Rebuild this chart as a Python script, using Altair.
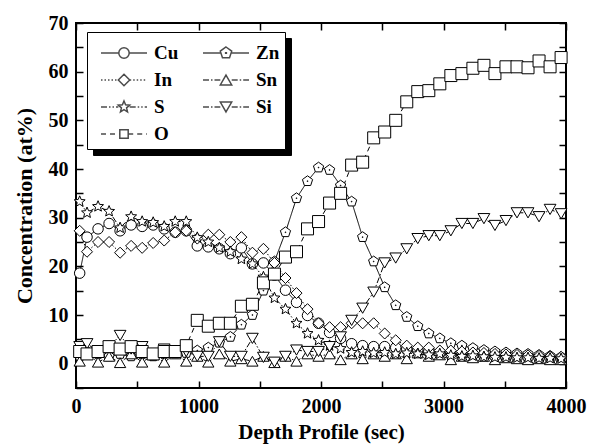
import math
import altair as alt
import pandas as pd

# ---------------- data ----------------
time_sec = [30] + [90 * i for i in range(1, 45)]

cu = [18.6, 26, 27.7, 28.8, 27.3, 28.5, 28.2, 28.5, 27.7, 27,
      27.3, 24.2, 24, 23.6, 22.6, 23.8, 20.5, 20.7, 18.2, 15.1,
      12.6, 9.9, 8.3, 6.4, 5.2, 4.1, 3.7, 3.5, 3.5, 3.3,
      3, 2.8, 2.5, 2.2, 2, 1.8, 1.8, 1.6, 1.5, 1.4,
      1.3, 1.3, 1.2, 1.1, 1.0]
zn = [1.5, 2.5, 2, 1.5, 2, 1.5, 2, 1.5, 2, 2,
      2.2, 2.7, 3.3, 4.3, 5.5, 8, 10, 15, 21, 27,
      34, 37.5, 40.3, 39.8, 36.6, 33.3, 26, 21, 15.7, 12,
      9.6, 7.7, 6.2, 5.2, 4.2, 3.7, 3.2, 2.8, 2.5, 2.3,
      2.1, 2, 1.8, 1.6, 1.4]
in_ = [27.3, 23, 25, 25, 22.8, 24.2, 23.8, 24.8, 25.3, 27,
       27.3, 25.7, 26.5, 26.5, 25, 26, 22.8, 23.6, 20.7, 17.6,
       14.5, 11.2, 8.3, 7.5, 7.5, 8.3, 8.3, 8.3, 6.2, 4.8,
       3.7, 3.3, 3.3, 2.7, 2.7, 2.5, 2.3, 2.2, 2, 1.9,
       1.8, 1.7, 1.6, 1.5, 1.4]
sn = [0.5, 2, 0.3, 1.5, 0.2, 2, 0.3, 1.8, 0.3, 2,
      0.5, 1.5, 0.3, 2, 0.5, 1, 0.5, 1.5, 0.2, 1.5,
      0.5, 2, 1.5, 2, 0.8, 2, 1, 2, 1.5, 2,
      1, 2.2, 1.5, 1.8, 0.8, 1.5, 1.2, 1.5, 0.8, 1.2,
      1, 0.8, 1, 0.8, 0.8]
s = [33.3, 31, 32.3, 31.3, 27.9, 30.2, 29.2, 29, 28.2, 29.2,
     29.2, 25.9, 25, 23.8, 23, 21.5, 20.5, 17.8, 13.5, 11.2,
     8.3, 6.2, 4.8, 3.7, 3.1, 2.3, 2.5, 2.2, 2.3, 2,
     2.2, 2, 1.8, 2, 1.7, 1.5, 1.6, 1.4, 1.3, 1.3,
     1.2, 1.2, 1.1, 1.1, 1.0]
si = [3.5, 4.1, 2.5, 3.5, 5.8, 3, 3.5, 2, 3, 2.5,
      2.5, 1.5, 1.5, 4.5, 1.5, 1.5, 5.2, 1.3, 0.3, 1.5,
      2.8, 2.5, 2.5, 3.5, 5.5, 8.9, 11.4, 14.7, 20.7, 21.7,
      23.6, 25.7, 26.3, 26.3, 27.3, 28.8, 28.8, 29.8, 28.4, 29.4,
      31, 31, 30.2, 31.7, 30.8]
o = [2.5, 2, 2.5, 3.5, 3, 3.5, 2.5, 2, 2.5, 2.5,
     3.7, 8.9, 7.7, 8.3, 8.3, 11.8, 12.2, 16.6, 18.4, 21.9,
     23, 27.7, 29.2, 33, 35, 40.8, 41.4, 46.4, 47.6, 50,
     53.8, 55.9, 56.1, 57.5, 59.2, 59.6, 60.7, 61.3, 59.6, 61,
     61, 60.8, 62.2, 61, 62.9]

series_names = ["Cu", "Zn", "In", "Sn", "S", "Si", "O"]
series_values = [cu, zn, in_, sn, s, si, o]

x_label_values = [0, 1000, 2000, 3000, 4000]
y_label_values = [0, 10, 20, 30, 40, 50, 60, 70]
x_tick_values = list(range(0, 4001, 500))
y_tick_values = list(range(-5, 71, 5))

rows = []
for name, vals in zip(series_names, series_values):
    for t, v in zip(time_sec, vals):
        rows.append({"series": name, "t": t, "c": v})
df = pd.DataFrame(rows)

# ---------------- styling ----------------
FONT = "Liberation Serif"
W, H = 490, 365

def poly(r, n, rot=-90.0, r2=None, cx=0.0):
    pts = []
    k = n * (2 if r2 else 1)
    for i in range(k):
        ang = math.radians(rot + 360.0 * i / k)
        rr = r if (r2 is None or i % 2 == 0) else r2
        pts.append((cx + rr * math.cos(ang), rr * math.sin(ang)))
    return "M" + "L".join(f"{x:.3f},{y:.3f}" for x, y in pts) + "Z"

def dot(d, cx=0.0):
    return (f"M{cx-d:.3f},{-d:.3f}L{cx+d:.3f},{-d:.3f}"
            f"L{cx+d:.3f},{d:.3f}L{cx-d:.3f},{d:.3f}Z")

pent_path = poly(1.0, 5) + dot(0.06)
star_path = poly(1.0, 5, r2=0.45)
point_shapes = ["circle", pent_path, "diamond", "triangle-up", star_path,
                "triangle-down", "square"]
point_sizes = [110, 144, 130, 130, 144, 130, 72]
dashes = [[1, 0], [1, 0], [1.5, 2], [6, 2, 1.5, 2], [6, 2, 1.5, 2, 1.5, 2],
          [6, 2, 1.5, 2], [5, 4]]

# legend sample = dashed line + marker, drawn as one symbol path
SYM = 20                 # legend symbol box used for layout (px)
U = SYM / 2.0            # px per path unit
LINE_START = -2.0 / U    # sample line start (units, relative to box centre)
LINE_LEN = 46.0 / U
MC = LINE_START + LINE_LEN / 2   # marker centre

def seg_path(x0, x1, dash):
    if dash == [1, 0]:
        return f"M{x0:.3f},0L{x1:.3f},0"
    parts, x, i = [], x0, 0
    while x < x1 - 1e-6:
        L = dash[i % len(dash)] / U
        if i % 2 == 0:
            parts.append(f"M{x:.3f},0L{min(x + L, x1):.3f},0")
        x += L
        i += 1
    return "".join(parts)

def marker_path(kind, px, cx):
    h = px / U
    if kind == "circle":
        return (f"M{cx+h:.3f},0A{h:.3f},{h:.3f} 0 1,1 {cx-h:.3f},0"
                f"A{h:.3f},{h:.3f} 0 1,1 {cx+h:.3f},0Z"), h
    if kind == "square":
        return dot(h, cx), h
    if kind == "diamond":
        return (f"M{cx:.3f},{-h:.3f}L{cx+h:.3f},0L{cx:.3f},{h:.3f}"
                f"L{cx-h:.3f},0Z"), h
    if kind in ("tri-up", "tri-down"):
        hh = h * math.sqrt(3) / 2
        sg = 1 if kind == "tri-up" else -1
        return (f"M{cx:.3f},{-sg*hh:.3f}L{cx+h:.3f},{sg*hh:.3f}"
                f"L{cx-h:.3f},{sg*hh:.3f}Z"), h
    if kind == "pent":
        return poly(h, 5, cx=cx) + dot(0.06 * h, cx), h * 0.95
    if kind == "star":
        return poly(h, 5, r2=0.45 * h, cx=cx), h * 0.95

legend_kinds = [("circle", 5.2), ("pent", 6), ("diamond", 5.7), ("tri-up", 5.7),
                ("star", 6), ("tri-down", 5.7), ("square", 4.2)]
legend_paths = []
for (kind, px), dash in zip(legend_kinds, dashes):
    m, half = marker_path(kind, px, MC)
    legend_paths.append(seg_path(LINE_START, MC - half, dash)
                        + seg_path(MC + half, LINE_START + LINE_LEN, dash) + m)

x_scale = alt.Scale(domain=[0, 4000], nice=False, zero=False)
y_scale = alt.Scale(domain=[-5, 70], nice=False, zero=False)

def tick_axis(orient, offset, values):
    return alt.Axis(orient=orient, offset=offset, values=values, labels=False,
                    domain=False, grid=False, title=None, ticks=True,
                    tickSize=7, tickWidth=1.5, tickColor="black")

legend_common = dict(titleFontSize=4, titlePadding=1,
                     orient="none", direction="horizontal",
                     columns=2, symbolSize=SYM * SYM, labelFont=FONT,
                     labelFontSize=19, labelFontWeight="bold",
                     labelOffset=40, columnPadding=15,
                     rowPadding=6, padding=5)

base = alt.Chart(df)

lines = base.mark_line(color="black", strokeWidth=1).encode(
    x=alt.X("t:Q", scale=x_scale,
            axis=alt.Axis(values=x_label_values, format="d", labelFont=FONT,
                          labelFontSize=20, labelFontWeight="bold",
                          labelColor="black", ticks=False, tickSize=0,
                          domain=False, grid=False, labelPadding=8,
                          labelFlush=False,
                          title="Depth Profile (sec)", titleFont=FONT,
                          titleFontSize=21, titleFontWeight="bold",
                          titleColor="black", titlePadding=5)),
    y=alt.Y("c:Q", scale=y_scale,
            axis=alt.Axis(values=y_label_values, format="d", labelFont=FONT,
                          labelFontSize=20, labelFontWeight="bold",
                          labelColor="black", ticks=False, tickSize=0,
                          domain=False, grid=False, labelPadding=8,
                          labelFlush=False,
                          title="Concentration (at%)", titleFont=FONT,
                          titleFontSize=22, titleFontWeight="bold",
                          titleColor="black", titlePadding=12)),
    strokeDash=alt.StrokeDash("series:N",
                              scale=alt.Scale(domain=series_names, range=dashes),
                              legend=None),
    detail="series:N",
    order="t:Q",
)

points = base.mark_point(filled=True, fill="white", stroke="black",
                         strokeWidth=1, opacity=1).encode(
    x=alt.X("t:Q", scale=x_scale, axis=tick_axis("top", -H, x_tick_values)),
    y=alt.Y("c:Q", scale=y_scale, axis=tick_axis("right", -W, y_tick_values)),
    shape=alt.Shape("series:N",
                    scale=alt.Scale(domain=series_names, range=point_shapes),
                    legend=None),
    size=alt.Size("series:N",
                  scale=alt.Scale(domain=series_names, range=point_sizes),
                  legend=None),
)

# legend-only layers: their marks are shifted outside the x domain and clipped
hidden = base.transform_calculate(tx="datum.t - 100000")

shadow_layer = hidden.mark_point(filled=True, size=SYM * SYM, clip=True).encode(
    x=alt.X("tx:Q", scale=x_scale, axis=None),
    y=alt.Y("c:Q", scale=y_scale, axis=None),
    color=alt.Color("series:N",
                    scale=alt.Scale(domain=series_names, range=["black"] * 7),
                    legend=alt.Legend(title="  ", legendX=17, legendY=15,
                                      labelColor="black", fillColor="black",
                                      strokeColor="black", **legend_common)),
)

legend_layer = hidden.mark_point(filled=False, color="black",
                                 size=SYM * SYM, clip=True).encode(
    x=alt.X("tx:Q", scale=x_scale, axis=tick_axis("bottom", -H, x_tick_values)),
    y=alt.Y("c:Q", scale=y_scale, axis=tick_axis("left", -W, y_tick_values)),
    shape=alt.Shape("series:N",
                    scale=alt.Scale(domain=series_names, range=legend_paths),
                    legend=alt.Legend(title=" ", legendX=11, legendY=9,
                                      labelColor="black", fillColor="white",
                                      strokeColor="black", **legend_common)),
)

chart = alt.layer(lines, points, shadow_layer, legend_layer).resolve_scale(
    shape="independent", size="independent", color="independent"
).resolve_axis(
    x="independent", y="independent"
).properties(
    width=W, height=H,
    autosize=alt.AutoSizeParams(type="none"),
    padding={"left": 76, "top": 23, "right": 23, "bottom": 58},
    background="white",
).configure_view(
    stroke="black", strokeWidth=2
)

chart.save("out.html", embed_options={"renderer": "svg", "actions": False})
